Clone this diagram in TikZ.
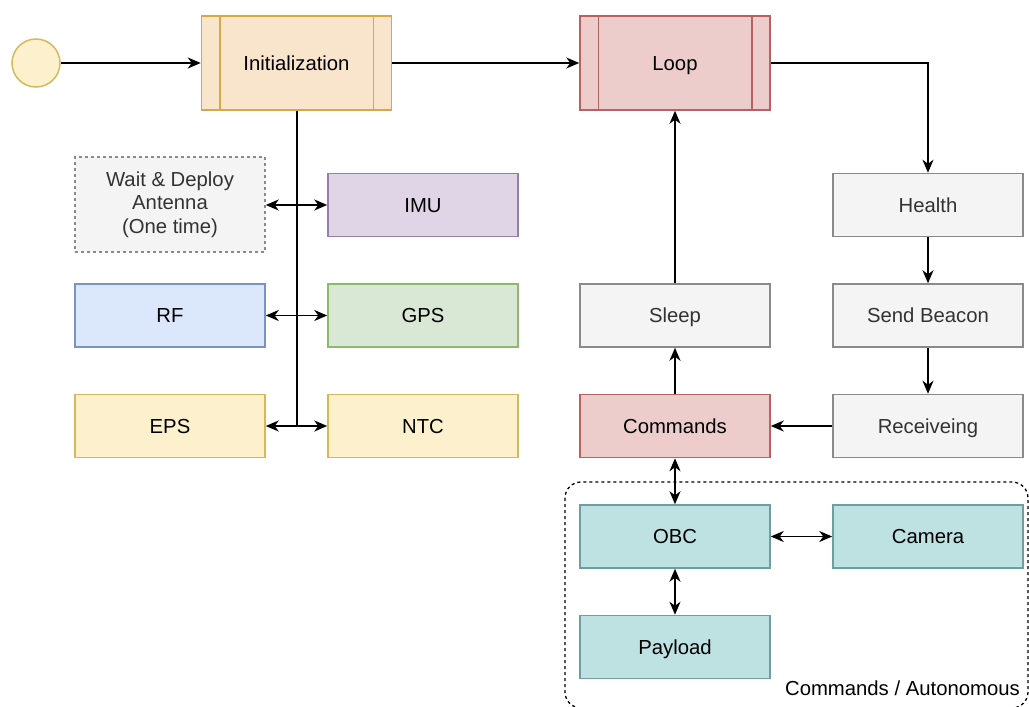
\documentclass[tikz,border=0pt]{standalone}
\usepackage{fontspec}
\setmainfont{Liberation Sans}
\usetikzlibrary{arrows.meta}
\definecolor{orF}{HTML}{F9E4CC}\definecolor{orD}{HTML}{D5A84B}
\definecolor{rdF}{HTML}{EDCDCC}\definecolor{rdD}{HTML}{B7625E}
\definecolor{ylF}{HTML}{FCF1CC}\definecolor{ylD}{HTML}{D6B85C}
\definecolor{gyF}{HTML}{F4F4F4}\definecolor{gyD}{HTML}{8A8A8A}
\definecolor{puF}{HTML}{E0D5E7}\definecolor{puD}{HTML}{9A7DB0}
\definecolor{blF}{HTML}{DBE7FB}\definecolor{blD}{HTML}{7893C4}
\definecolor{gnF}{HTML}{D9E7D5}\definecolor{gnD}{HTML}{8FB86F}
\definecolor{tlF}{HTML}{BEE1E2}\definecolor{tlD}{HTML}{6E9EA0}
\definecolor{txG}{HTML}{333333}
\tikzset{
  box/.style={draw, line width=1.5pt, minimum width=190pt, minimum height=63pt, inner sep=0pt,
    font=\fontsize{20.3}{23.5}\selectfont, text height=18.6pt, text depth=4pt},
  procbox/.style={box, minimum height=94pt},
  gray/.style={box, fill=gyF, draw=gyD, text=txG},
  conn/.style={line width=1.5pt, -{Stealth[length=13pt,width=11pt,inset=4pt]}},
  dconn/.style={line width=1.5pt, {Stealth[length=13pt,width=11pt,inset=4pt]}-{Stealth[length=13pt,width=11pt,inset=4pt]}},
}
\begin{document}
\begin{tikzpicture}[x=1pt,y=-1pt]
\useasboundingbox (0,0) rectangle (1029,707);
% group
\draw[dashed, line width=1.3pt, rounded corners=16pt] (565,482) rectangle (1028,708);
\node[anchor=base east, font=\fontsize{20.3}{23.5}\selectfont, inner sep=0pt] (grp) at (1020,695) {Commands / Autonomous};
% start
\node[circle, draw=ylD, fill=ylF, line width=1.5pt, minimum size=48pt, inner sep=0pt] (start) at (36,63) {};
% process boxes
\node[procbox, fill=orF, draw=orD] (init) at (296.5,63) {Initialization};
\draw[orD, line width=1.5pt] ([xshift=19pt]init.north west) -- ([xshift=19pt]init.south west)
  ([xshift=-19pt]init.north east) -- ([xshift=-19pt]init.south east);
\node[procbox, fill=rdF, draw=rdD] (loop) at (675,63) {Loop};
\draw[rdD, line width=1.5pt] ([xshift=19pt]loop.north west) -- ([xshift=19pt]loop.south west)
  ([xshift=-19pt]loop.north east) -- ([xshift=-19pt]loop.south east);
% left subsystems
\node[gray, dashed, minimum height=95pt, align=center, text height=, text depth=] (wait) at (170,204.5) {Wait \& Deploy\\Antenna\\(One time)};
\node[box, fill=puF, draw=puD] (imu) at (423,205) {IMU};
\node[box, fill=blF, draw=blD] (rf) at (170,315.5) {RF};
\node[box, fill=gnF, draw=gnD] (gps) at (423,315.5) {GPS};
\node[box, fill=ylF, draw=ylD] (eps) at (170,426) {EPS};
\node[box, fill=ylF, draw=ylD] (ntc) at (423,426) {NTC};
% right side
\node[gray] (health) at (928,205) {Health};
\node[gray] (beacon) at (928,315.5) {Send Beacon};
\node[gray] (recv) at (928,426) {Receiveing};
\node[gray] (sleep) at (675,315.5) {Sleep};
\node[box, fill=rdF, draw=rdD] (cmd) at (675,426) {Commands};
\node[box, fill=tlF, draw=tlD] (obc) at (675,536.5) {OBC};
\node[box, fill=tlF, draw=tlD] (cam) at (928,536.5) {Camera};
\node[box, fill=tlF, draw=tlD] (pay) at (675,647) {Payload};
% connectors
\coordinate (trunkend) at (297,426);
\draw[line width=1.5pt] (init.south -| trunkend) -- (trunkend);
\draw[conn] (start) -- (init);
\draw[conn] (init) -- (loop);
\draw[conn] (loop.east) -| (health.north);
\draw[conn] (health) -- (beacon);
\draw[conn] (beacon) -- (recv);
\draw[conn] (recv) -- (cmd);
\draw[conn] (cmd) -- (sleep);
\draw[conn] (sleep) -- (loop);
\draw[dconn] (cmd) -- (obc);
\draw[dconn] (obc) -- (pay);
\draw[dconn] (obc) -- (cam);
\draw[dconn] (wait.east |- imu.west) -- (imu.west);
\draw[dconn] (rf) -- (gps);
\draw[dconn] (eps) -- (ntc);
\end{tikzpicture}
\end{document}
